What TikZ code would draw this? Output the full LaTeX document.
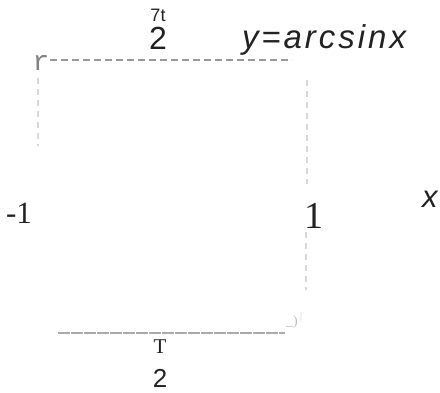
\documentclass[tikz,border=0pt]{standalone}
\usepackage{fontspec}
\setmainfont{Liberation Serif}
\setsansfont{Liberation Sans}
\setmonofont{Liberation Mono}
\definecolor{dashgray}{HTML}{999999}
\definecolor{lightgray}{HTML}{D8D8D8}
\definecolor{botgray}{HTML}{AAAAAA}
\definecolor{ink}{HTML}{222222}
\tikzset{
  lbl/.style={inner sep=0pt, outer sep=0pt, text=ink},
  topdash/.style={draw=dashgray, line width=1.4pt, dash pattern=on 7pt off 4pt},
  sidedash/.style={draw=lightgray, line width=1.2pt, dash pattern=on 6pt off 5pt},
  botline/.style={draw=botgray, line width=1.3pt, dash pattern=on 12pt off 1pt},
}
\newcommand{\fs}[1]{\fontsize{#1}{#1}\selectfont}
\begin{document}
\begin{tikzpicture}[x=1pt,y=-1pt]
\useasboundingbox (0,0) rectangle (440,392);
% labels
\node[lbl, anchor=base] (pit) at (158,21) {\sffamily\fs{18}7t};
\node[lbl, anchor=base] (two) at (158,49) {\sffamily\fs{32}2};
\node[lbl, anchor=base west] (fn) at (242,48) {\sffamily\itshape\fs{33}\addfontfeature{LetterSpace=9}y=arcsinx};
\node[lbl, anchor=base, text=dashgray!85!black] (r) at (41,70) {\ttfamily\fs{28}r};
\node[lbl, anchor=base west] (m1) at (6,223) {\fs{31}-1};
\node[lbl, anchor=base] (p1) at (314,228) {\fs{38}1};
\node[lbl, anchor=base west] (xl) at (422,207) {\sffamily\itshape\fs{31}x};
\node[lbl, anchor=base] (T) at (160,353) {\fs{21}T};
\node[lbl, anchor=base] (two2) at (160,387) {\sffamily\fs{26}2};
\node[lbl, anchor=base, text=lightgray!70!gray] (br) at (292,325) {\fs{14}\_)};
\node[lbl, anchor=base, text=lightgray] (bar) at (301,320) {\fs{12}|};
% dashed lines
\coordinate (tl) at (50,60);
\coordinate (tr) at (292,60);
\coordinate (l1) at (38,78);
\coordinate (l2) at (38,146);
\coordinate (ra1) at (307,80);
\coordinate (ra2) at (307,184);
\coordinate (rb1) at (306,232);
\coordinate (rb2) at (306,290);
\coordinate (b1) at (58,333);
\coordinate (b2) at (285,333);
\draw[topdash] (tl) -- (tr);
\draw[sidedash] (l1) -- (l2);
\draw[sidedash] (ra1) -- (ra2);
\draw[sidedash] (rb1) -- (rb2);
\draw[botline] (b1) -- (b2);
\end{tikzpicture}
\end{document}
